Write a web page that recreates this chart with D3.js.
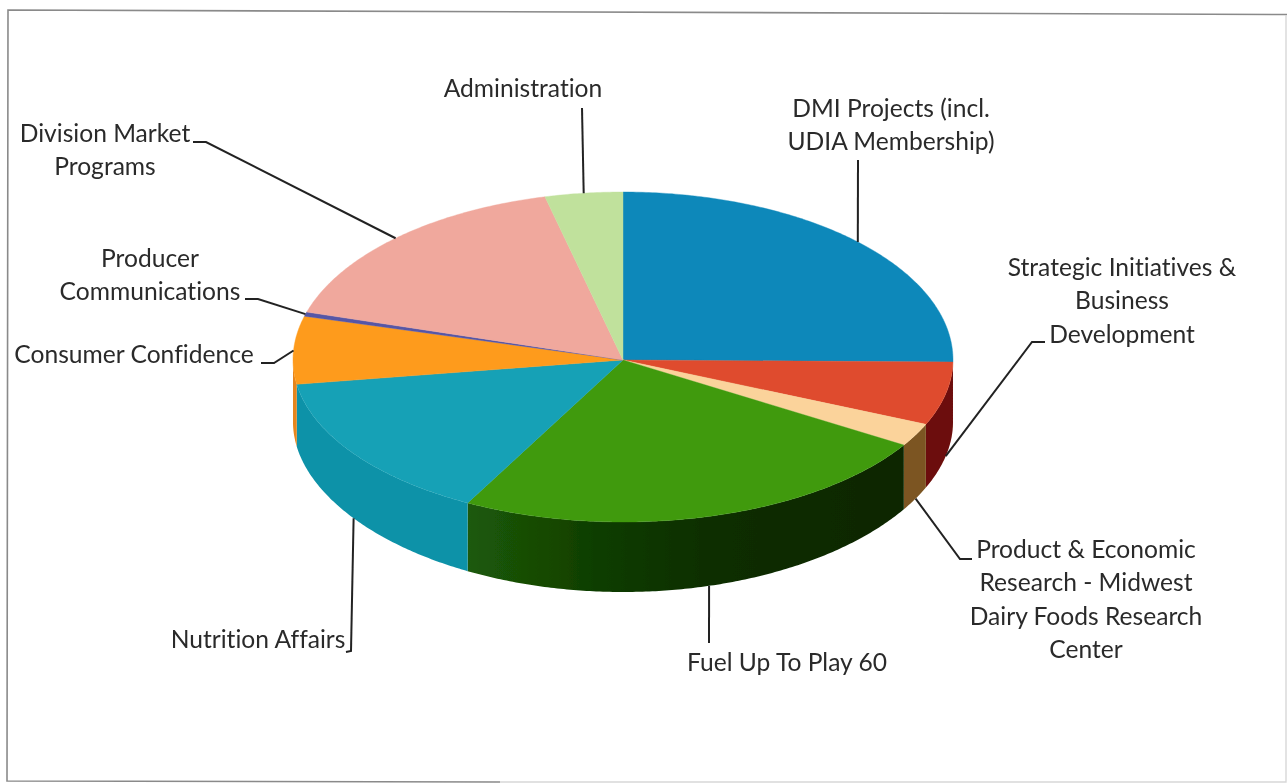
<!DOCTYPE html>
<html>
<head>
<meta charset="utf-8">
<script src="https://cdn.jsdelivr.net/npm/d3@7"></script>
<style>
  html, body { margin: 0; background: #fff; }
  text { font-family: Lato, "Open Sans", sans-serif; font-size: 24.6px; fill: #2a2a2a; text-anchor: middle; font-variant-ligatures: none; }
</style>
</head>
<body>
<div class="content"></div>
<script>
// percentages, clockwise from 12 o'clock
const categories = [
  "DMI Projects", "Strategic Initiatives", "Product Research", "Fuel Up", "Nutrition Affairs",
  "Consumer Confidence", "Producer Communications", "Division Market Programs", "Administration",
];
const shares = [25.2, 6.3, 2.3, 24, 14.8, 6.6, 0.4, 16.6, 3.8];
const topColors = ["#0e88ba", "#df4c2d", "#fbd39b", "#409a0d", "#17a1b6", "#fe9b1c", "#5656a6", "#f0a89d", "#c0e19c"];
const wallColors = ["#0b6a90", "#6c0a08", "#7b5522", "#123f04", "#0e92a8", "#e6851a", "#3a3a80", "#b07a70", "#8fa870"];
const labelLines = [
  ["DMI Projects (incl.", "UDIA Membership)"],
  ["Strategic Initiatives &", "Business", "Development"],
  ["Product & Economic", "Research - Midwest", "Dairy Foods Research", "Center"],
  ["Fuel Up To Play 60"],
  ["Nutrition Affairs"],
  ["Consumer Confidence"],
  ["Producer", "Communications"],
  ["Division Market", "Programs"],
  ["Administration"],
];

const width = 1287;
const height = 783;

const cx = 623;
const cy = 360;
const rx = 330;

// layout of the text and the leader elbows, in the same order as categories
const labelX = [891, 1122, 1086, 787, 258, 134, 150, 105, 523];
const labelY = [117, 276, 558, 671, 648, 363, 267, 142, 97];
const leaderPaths = [
  [[858, 160]],
  [[1032, 342], [1045, 342]],
  [[960, 559], [972, 559]],
  [[709, 643]],
  [[351, 651], [346, 652]],
  [[274, 363], [261, 363]],
  [[258, 299], [245, 299]],
  [[206, 142], [193, 142]],
  [[582, 108]],
];

const svg = d3
  .select(".content")
  .append("svg")
  .attr("width", width)
  .attr("height", height)
  .style("display", "block");

const defs = svg.append("defs");
defs
  .append("filter")
  .attr("id", "scan")
  .append("feGaussianBlur")
  .attr("stdDeviation", 0.45);

// the green wall goes nearly black towards the right
const greenGrad = defs
  .append("linearGradient")
  .attr("id", "greenWall")
  .attr("gradientUnits", "userSpaceOnUse")
  .attr("x1", 467)
  .attr("x2", 905);
greenGrad.append("stop").attr("offset", 0).attr("stop-color", "#1d5a08");
greenGrad.append("stop").attr("offset", 0.3).attr("stop-color", "#0f3d03");
greenGrad.append("stop").attr("offset", 0.55).attr("stop-color", "#0b2e02");
greenGrad.append("stop").attr("offset", 1).attr("stop-color", "#0c2603");

const chart = svg.append("g").attr("filter", "url(#scan)");

// scanned frame, slightly crooked and fading out at the bottom right
chart
  .append("path")
  .attr("d", "M1287,14.5 L8,10 L7,781 L500,782")
  .attr("fill", "none")
  .attr("stroke", "#8a8a8a")
  .attr("stroke-width", 1.6);
chart
  .append("path")
  .attr("d", "M500,782 L1286,782 L1286,15")
  .attr("fill", "none")
  .attr("stroke", "#d8d8d8")
  .attr("stroke-width", 1.4);

const pie = d3
  .pie()
  .sort(null)
  .value((d) => d);
const slices = pie(shares);

// tilted disc: the front half is a bit flatter than the back
function project(angle, onBottom) {
  const c = Math.cos(angle);
  const y = c > 0 ? cy - 168 * c : cy - 162 * c;
  return [cx + rx * Math.sin(angle), onBottom ? y + wallDepth(angle) : y];
}

function wallDepth(angle) {
  const c = Math.cos(angle);
  return 62 + 8 * c * c;
}

function arcAngles(a0, a1) {
  const n = Math.max(2, Math.ceil((a1 - a0) / 0.01));
  return d3.range(n + 1).map((i) => a0 + ((a1 - a0) * i) / n);
}

const line = d3.line();

// walls, only the front half of the rim can be seen
slices.forEach((s, i) => {
  const a0 = Math.max(s.startAngle, Math.PI / 2);
  const a1 = Math.min(s.endAngle, (Math.PI * 3) / 2);
  if (a1 <= a0) return;
  const angles = arcAngles(a0, a1);
  const pts = angles
    .map((a) => project(a, false))
    .concat(angles.slice().reverse().map((a) => project(a, true)));
  chart
    .append("path")
    .attr("d", line(pts) + "Z")
    .attr("fill", i == 3 ? "url(#greenWall)" : wallColors[i]);
});

// top faces
slices.forEach((s, i) => {
  const pts = [[cx, cy]].concat(arcAngles(s.startAngle, s.endAngle).map((a) => project(a, false)));
  chart
    .append("path")
    .attr("d", line(pts) + "Z")
    .attr("fill", topColors[i])
    .attr("stroke", topColors[i])
    .attr("stroke-width", 0.4);
});

// leaders start at the middle of each slice, on the wall for the front ones
slices.forEach((s, i) => {
  const mid = (s.startAngle + s.endAngle) / 2;
  const front = Math.cos(mid) < 0;
  chart
    .append("path")
    .attr("d", line([project(mid, front)].concat(leaderPaths[i])))
    .attr("fill", "none")
    .attr("stroke", "#222")
    .attr("stroke-width", 2);
});

// labels
labelLines.forEach((lines, i) => {
  lines.forEach((txt, j) => {
    chart
      .append("text")
      .attr("x", labelX[i])
      .attr("y", labelY[i] + j * 33.3)
      .text(txt);
  });
});
</script>
</body>
</html>
